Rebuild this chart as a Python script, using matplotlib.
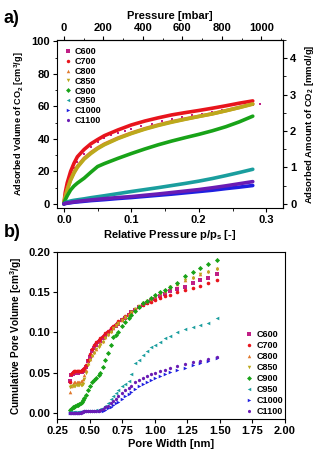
import numpy as np
import matplotlib
matplotlib.use('Agg')
import matplotlib.pyplot as plt
from matplotlib.lines import Line2D
from matplotlib.ticker import MultipleLocator

plt.rcParams['font.family'] = ['Liberation Sans', 'DejaVu Sans']
plt.rcParams['font.weight'] = 'bold'
plt.rcParams['axes.labelweight'] = 'bold'
plt.rcParams['font.size'] = 8
plt.rcParams['axes.linewidth'] = 0.8

# Amostras e estilos (ordem de simbolos do Origin)
amostras = ['C600', 'C700', 'C800', 'C850', 'C900', 'C950', 'C1000', 'C1100']
cores = ['#c01f86', '#e8141c', '#e0782c', '#bca91c', '#18a318', '#1a9e9e', '#1f1fe0', '#6a1cb4']
marcadores = ['s', 'o', '^', 'v', 'D', '<', '>', 'h']

# a) Isotermas de CO2 - pressao relativa p/p0
p_rel = [0.0, 0.002, 0.005, 0.01, 0.015, 0.02, 0.03, 0.04, 0.05, 0.06, 0.08,
         0.10, 0.12, 0.14, 0.16, 0.18, 0.20, 0.22, 0.24, 0.26, 0.28]
p_rel_c600 = [0.0, 0.002, 0.005, 0.01, 0.015, 0.02, 0.03, 0.04, 0.05, 0.06, 0.07,
              0.08, 0.09, 0.10, 0.115, 0.13, 0.145, 0.16, 0.175, 0.19, 0.205,
              0.22, 0.235, 0.25, 0.265, 0.28, 0.29]
v_c600 = [0.0, 5.0, 10.0, 17.0, 22.0, 25.5, 31.0, 35.0, 38.0, 40.3, 42.2,
          43.8, 45.0, 46.0, 47.8, 49.4, 50.9, 52.3, 53.5, 54.6, 55.6,
          56.6, 57.6, 58.6, 59.6, 60.6, 61.4]
v_c700 = [0.0, 7.0, 13.0, 20.0, 25.0, 29.0, 33.5, 37.0, 39.6, 42.0, 45.5,
          48.6, 51.0, 53.0, 54.8, 56.2, 57.5, 58.9, 60.4, 62.0, 63.4]
v_c800 = [0.0, 4.5, 9.0, 15.0, 19.5, 23.0, 28.0, 31.5, 34.4, 36.8, 40.5,
          43.6, 46.3, 48.6, 50.6, 52.3, 53.9, 55.5, 57.4, 59.4, 61.6]
v_c850 = [0.0, 4.3, 8.7, 14.6, 19.0, 22.5, 27.5, 31.0, 34.0, 36.4, 40.2,
          43.3, 46.0, 48.3, 50.3, 52.1, 53.8, 55.4, 57.3, 59.3, 61.4]
v_c900 = [0.0, 2.5, 5.0, 8.6, 11.0, 12.8, 15.8, 19.5, 23.0, 24.8, 28.0,
          31.0, 33.8, 36.4, 38.7, 40.8, 42.8, 45.0, 47.5, 50.5, 54.0]
v_c950 = [0.0, 0.6, 1.2, 1.8, 2.2, 2.5, 3.1, 3.8, 4.4, 5.0, 6.3,
          7.6, 8.8, 10.0, 11.3, 12.6, 14.0, 15.6, 17.4, 19.3, 21.3]
v_c1000 = [0.0, 0.2, 0.4, 0.7, 1.0, 1.2, 1.6, 2.0, 2.3, 2.6, 3.3,
           3.9, 4.6, 5.3, 6.0, 6.8, 7.6, 8.4, 9.4, 10.3, 11.3]
v_c1100 = [0.0, 0.3, 0.5, 0.9, 1.2, 1.5, 2.0, 2.4, 2.8, 3.2, 3.9,
           4.5, 5.3, 6.1, 7.0, 7.9, 8.8, 9.9, 11.1, 12.4, 13.7]

# b) Volume cumulativo de poros (DFT)
poro = [0.35, 0.36, 0.37, 0.38, 0.39, 0.40, 0.41, 0.42, 0.43, 0.44, 0.45, 0.46,
        0.47, 0.49, 0.50, 0.52, 0.53, 0.55, 0.57, 0.58, 0.60, 0.62, 0.64, 0.66,
        0.68, 0.70, 0.72, 0.75, 0.77, 0.80, 0.82, 0.85, 0.88, 0.91, 0.94, 0.97,
        1.00, 1.04, 1.08, 1.12, 1.17, 1.23, 1.29, 1.35, 1.41, 1.48]
vp_c600 = [0.040, 0.047, 0.049, 0.050, 0.050, 0.050, 0.050, 0.051, 0.051, 0.051, 0.052, 0.054,
           0.057, 0.064, 0.070, 0.077, 0.081, 0.085, 0.088, 0.090, 0.093, 0.096, 0.099, 0.102,
           0.105, 0.108, 0.111, 0.115, 0.118, 0.122, 0.125, 0.128, 0.131, 0.134, 0.137, 0.139,
           0.142, 0.145, 0.148, 0.151, 0.154, 0.157, 0.161, 0.165, 0.168, 0.172]
vp_c700 = [0.038, 0.049, 0.051, 0.052, 0.052, 0.052, 0.052, 0.052, 0.052, 0.053, 0.054, 0.056,
           0.059, 0.066, 0.073, 0.080, 0.084, 0.088, 0.091, 0.093, 0.096, 0.099, 0.102, 0.105,
           0.108, 0.111, 0.114, 0.117, 0.120, 0.123, 0.126, 0.129, 0.132, 0.134, 0.136, 0.138,
           0.140, 0.143, 0.145, 0.147, 0.150, 0.153, 0.155, 0.158, 0.161, 0.165]
vp_c800 = [0.026, 0.033, 0.036, 0.038, 0.038, 0.039, 0.039, 0.039, 0.040, 0.040, 0.042, 0.047,
           0.053, 0.062, 0.067, 0.072, 0.076, 0.080, 0.084, 0.087, 0.090, 0.094, 0.098, 0.102,
           0.106, 0.109, 0.112, 0.116, 0.119, 0.122, 0.125, 0.129, 0.133, 0.136, 0.139, 0.142,
           0.145, 0.149, 0.152, 0.156, 0.160, 0.165, 0.169, 0.173, 0.176, 0.180]
vp_c850 = [0.032, 0.033, 0.034, 0.034, 0.034, 0.035, 0.035, 0.035, 0.035, 0.035, 0.036, 0.042,
           0.050, 0.060, 0.066, 0.071, 0.075, 0.079, 0.082, 0.085, 0.088, 0.093, 0.097, 0.101,
           0.105, 0.109, 0.112, 0.116, 0.119, 0.122, 0.125, 0.129, 0.133, 0.136, 0.139, 0.142,
           0.145, 0.149, 0.152, 0.156, 0.160, 0.165, 0.168, 0.172, 0.175, 0.179]
vp_c900 = [0.004, 0.005, 0.007, 0.008, 0.009, 0.010, 0.010, 0.011, 0.012, 0.014, 0.016, 0.019,
           0.022, 0.028, 0.033, 0.038, 0.041, 0.044, 0.047, 0.050, 0.057, 0.066, 0.074, 0.085,
           0.094, 0.097, 0.101, 0.108, 0.113, 0.118, 0.122, 0.127, 0.132, 0.136, 0.139, 0.143,
           0.147, 0.150, 0.153, 0.157, 0.162, 0.170, 0.175, 0.180, 0.185, 0.190]
vp_c950 = [0.001, 0.001, 0.001, 0.001, 0.001, 0.001, 0.001, 0.001, 0.001, 0.002, 0.002, 0.002,
           0.003, 0.003, 0.003, 0.003, 0.003, 0.004, 0.004, 0.005, 0.006, 0.009, 0.013, 0.017,
           0.021, 0.025, 0.029, 0.033, 0.036, 0.040, 0.048, 0.062, 0.066, 0.072, 0.077, 0.082,
           0.085, 0.088, 0.093, 0.096, 0.100, 0.104, 0.107, 0.109, 0.112, 0.118]
vp_c1000 = [0.000, 0.000, 0.000, 0.000, 0.000, 0.000, 0.000, 0.000, 0.000, 0.001, 0.001, 0.001,
            0.002, 0.002, 0.002, 0.002, 0.002, 0.002, 0.002, 0.002, 0.003, 0.004, 0.006, 0.008,
            0.010, 0.012, 0.014, 0.018, 0.021, 0.024, 0.026, 0.030, 0.033, 0.036, 0.039, 0.041,
            0.043, 0.046, 0.048, 0.051, 0.053, 0.056, 0.059, 0.062, 0.065, 0.068]
vp_c1100 = [0.000, 0.000, 0.000, 0.000, 0.000, 0.000, 0.000, 0.000, 0.000, 0.001, 0.001, 0.002,
            0.003, 0.003, 0.003, 0.003, 0.003, 0.003, 0.003, 0.004, 0.005, 0.007, 0.009, 0.012,
            0.015, 0.018, 0.021, 0.025, 0.028, 0.031, 0.034, 0.038, 0.041, 0.044, 0.046, 0.048,
            0.050, 0.052, 0.054, 0.056, 0.058, 0.061, 0.063, 0.065, 0.067, 0.069]

isotermas = [(p_rel_c600, v_c600), (p_rel, v_c700), (p_rel, v_c800), (p_rel, v_c850),
             (p_rel, v_c900), (p_rel, v_c950), (p_rel, v_c1000), (p_rel, v_c1100)]
poros = [vp_c600, vp_c700, vp_c800, vp_c850, vp_c900, vp_c950, vp_c1000, vp_c1100]

P0 = 3416.0       # mbar correspondente a p/p0 = 1
VM = 22.414       # cm3 STP por mmol

fig = plt.figure(figsize=(3.21, 4.58), dpi=100)

# ---------- a) ----------
ax1 = fig.add_axes([0.178, 0.546, 0.704, 0.367])
for i, (x, y) in enumerate(isotermas):
    if amostras[i] == 'C600':
        ax1.plot(x, y, ls='none', marker='s', ms=2.0, color=cores[i], zorder=2,
                 markeredgewidth=0)
    else:
        ax1.plot(x, y, lw=2.6, color=cores[i], zorder=3 + i,
                 solid_capstyle='round', solid_joinstyle='round')
ax1.set_xlim(-0.01, 0.325)
ax1.set_ylim(-2.5, 101)
ax1.xaxis.set_minor_locator(MultipleLocator(0.05))
ax1.yaxis.set_major_locator(MultipleLocator(20))
ax1.yaxis.set_minor_locator(MultipleLocator(10))
ax1.set_xticks([0.0, 0.1, 0.2, 0.3], ['0.0', '0.1', '0.2', '0.3'])
ax1.set_xlabel('Relative Pressure p/p$_\\mathregular{s}$ [-]', labelpad=2)
ax1.set_ylabel('Adsorbed Volume of CO$_\\mathregular{2}$ [cm$^\\mathregular{3}$/g]',
               fontsize=6.6, labelpad=4)

top = ax1.secondary_xaxis('top', functions=(lambda r: r * P0, lambda m: m / P0))
top.xaxis.set_major_locator(MultipleLocator(200))
top.xaxis.set_minor_locator(MultipleLocator(100))
top.set_xlabel('Pressure [mbar]', labelpad=3)

dir_ = ax1.secondary_yaxis('right', functions=(lambda v: v / VM, lambda m: m * VM))
dir_.yaxis.set_major_locator(MultipleLocator(1))
dir_.yaxis.set_minor_locator(MultipleLocator(0.5))
dir_.set_ylabel('Adsorbed Amount of CO$_\\mathregular{2}$ [mmol/g]', fontsize=6.8, labelpad=5)

alcas = [Line2D([], [], ls='none', marker=marcadores[i], ms=2.5, color=cores[i],
                markeredgewidth=0)
         for i in range(len(amostras))]
ax1.legend(alcas, amostras, loc='upper left', frameon=False, fontsize=6.5,
           handlelength=0.6, handletextpad=0.5, labelspacing=0.1,
           borderaxespad=0.2, bbox_to_anchor=(0.01, 0.99))

# ---------- b) ----------
ax2 = fig.add_axes([0.178, 0.085, 0.71, 0.365])
for i, y in enumerate(poros):
    ax2.plot(poro, y, ls='none', marker=marcadores[i], ms=2.6, color=cores[i],
             markeredgewidth=0)
ax2.set_xlim(0.25, 2.0)
ax2.set_ylim(-0.0075, 0.2)
ax2.xaxis.set_major_locator(MultipleLocator(0.25))
ax2.yaxis.set_major_locator(MultipleLocator(0.05))
ax2.set_xlabel('Pore Width [nm]', labelpad=2)
ax2.set_ylabel('Cumulative Pore Volume [cm$^\\mathregular{3}$/g]', fontsize=7.3, labelpad=3)
ax2.legend(alcas, amostras, loc='lower right', frameon=False, fontsize=6.5,
           handlelength=0.6, handletextpad=0.5, labelspacing=0.22,
           borderaxespad=0.2, bbox_to_anchor=(1.015, -0.015))

for ax in (ax1, ax2, top, dir_):
    ax.tick_params(which='major', length=3, width=0.8, pad=2)
    ax.tick_params(which='minor', length=1.8, width=0.6)

fig.text(0.012, 0.978, 'a)', fontsize=13, fontweight='bold', va='top')
fig.text(0.012, 0.51, 'b)', fontsize=13, fontweight='bold', va='top')

fig.savefig('out.png', dpi=100)
